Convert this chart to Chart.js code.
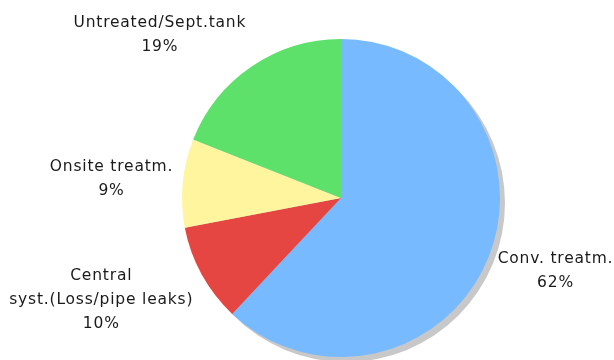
<!DOCTYPE html>
<html><head><meta charset="utf-8">
<script src="https://cdn.jsdelivr.net/npm/chart.js@4/dist/chart.umd.min.js"></script>
<style>html,body{margin:0;padding:0;background:#fff}#wrap{width:614px;height:360px}</style>
</head><body><div id="wrap"><canvas id="c" width="614" height="360"></canvas></div>
<script>
const categories = ["Conv. treatm.", "Central\nsyst.(Loss/pipe leaks)", "Onsite treatm.", "Untreated/Sept.tank"];
const shares = [62, 10, 9, 19];
const colors = ["#78BAFF", "#E64641", "#FFF59E", "#5DE16B"];

const FONT = "15.5px 'DejaVu Sans'";
const LINE = 24;

const shadowPlugin = {
  id: 'shadow',
  beforeDatasetsDraw(chart) {
    const el = chart.getDatasetMeta(0).data[0];
    if (!el) return;
    const ctx = chart.ctx;
    ctx.save();
    ctx.fillStyle = '#C8C8C8';
    ctx.beginPath();
    ctx.arc(el.x + 5, el.y + 5, el.outerRadius, 0, Math.PI * 2);
    ctx.fill();
    ctx.restore();
  }
};

const labelPlugin = {
  id: 'outLabels',
  afterDatasetsDraw(chart) {
    const ctx = chart.ctx;
    const meta = chart.getDatasetMeta(0);
    ctx.save();
    ctx.font = FONT;
    ctx.letterSpacing = '0.8px';
    ctx.fillStyle = '#1a1a1a';
    ctx.textAlign = 'center';
    ctx.textBaseline = 'middle';
    meta.data.forEach((arc, i) => {
      const mid = (arc.startAngle + arc.endAngle) / 2;
      const dx = Math.cos(mid), dy = Math.sin(mid);
      const R = arc.outerRadius * 1.06;
      const px = arc.x + dx * R, py = arc.y + dy * R;
      const lines = categories[i].split('\n').concat([shares[i] + '%']);
      const w = Math.max(...lines.map(l => ctx.measureText(l).width));
      const h = lines.length * LINE;
      const cx = dx >= 0 ? px + w / 2 : px - w / 2;
      const cy = py + dy * h * 0.6;
      lines.forEach((l, k) => {
        ctx.fillText(l, cx, cy - h / 2 + LINE / 2 + k * LINE);
      });
    });
    ctx.restore();
  }
};

new Chart(document.getElementById('c'), {
  type: 'pie',
  data: {
    labels: categories,
    datasets: [{ data: shares, backgroundColor: colors, borderWidth: 0 }]
  },
  options: {
    responsive: false,
    animation: false,
    layout: { padding: { left: 182, right: 114, top: 39, bottom: 3 } },
    plugins: { legend: { display: false }, tooltip: { enabled: false } }
  },
  plugins: [shadowPlugin, labelPlugin]
});
</script>
</body></html>
